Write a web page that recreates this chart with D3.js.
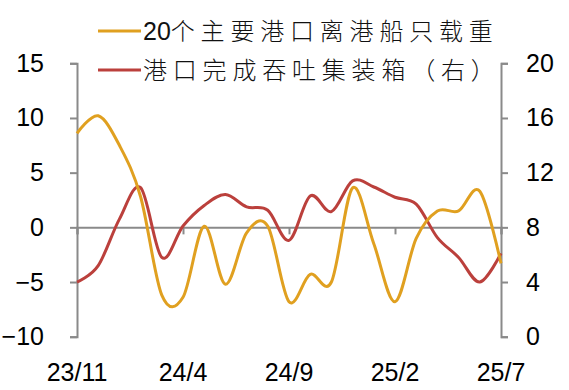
<!DOCTYPE html>
<html lang="zh">
<head>
<meta charset="utf-8">
<title>港口数据</title>
<script src="https://d3js.org/d3.v7.min.js"></script>
<style>
  body { margin: 0; background: #fff; }
  svg { display: block; }
</style>
</head>
<body>
<script>
// months 23/11 .. 25/7
var months = ["23/11","23/12","24/1","24/2","24/3","24/4","24/5","24/6","24/7","24/8","24/9",
              "24/10","24/11","24/12","25/1","25/2","25/3","25/4","25/5","25/6","25/7"];
var tickLabels = ["23/11","24/4","24/9","25/2","25/7"];

// 20个主要港口离港船只载重 (left axis)
var shipLoad = [8.6, 10.2, 7.5, 2.8, -6.2, -6.4, 0.1, -5.2, -0.5, 0.1, -6.8,
                -4.3, -5.0, 3.6, -1.5, -6.8, -1.0, 1.5, 1.5, 3.3, -3.3];
// 港口完成吞吐集装箱 (right axis)
var container = [4.0, 5.2, 8.6, 10.9, 5.8, 8.1, 9.6, 10.4, 9.5, 9.25, 7.05,
                 10.3, 9.15, 11.4, 10.95, 10.2, 9.7, 7.25, 5.8, 4.0, 6.1];

var leftTicks = [-10, -5, 0, 5, 10, 15];
var rightTicks = [0, 4, 8, 12, 16, 20];
var legendPrefix = ["20", ""];
var legendNames = ["个主要港口离港船只载重", "港口完成吞吐集装箱（右）"];
var colors = ["#e0a020", "#bb403c"];

var w = 569, h = 390;
var plotL = 77, plotR = 501, plotT = 63.3, plotB = 336.7;

var x = d3.scalePoint().domain(months).range([plotL, plotR]);
var yL = d3.scaleLinear().domain([-10, 15]).range([plotB, plotT]);
var yR = d3.scaleLinear().domain([0, 20]).range([plotB, plotT]);

var svg = d3.select("body").append("svg").attr("width", w).attr("height", h);

var axisColor = "#8a8a8a";
var numFont = "'Liberation Sans', Arial, sans-serif";
var cjkFont = "'Noto Sans CJK SC', sans-serif";

function styleAxis(g) {
  g.selectAll("path, line").attr("stroke", axisColor).attr("stroke-width", 2);
  g.selectAll("text").attr("font-family", numFont).attr("font-size", 25).attr("fill", "#000");
}

// left axis
svg.append("g").attr("transform", "translate(" + plotL + ",0)")
  .call(d3.axisLeft(yL).tickValues(leftTicks).tickSizeOuter(0).tickSize(7).tickPadding(26))
  .call(styleAxis);

// right axis
svg.append("g").attr("transform", "translate(" + plotR + ",0)")
  .call(d3.axisRight(yR).tickValues(rightTicks).tickSizeOuter(0).tickSize(7).tickPadding(18))
  .call(styleAxis);

// zero line with month ticks
svg.append("g").attr("transform", "translate(0," + yL(0) + ")")
  .call(d3.axisBottom(x).tickValues(tickLabels).tickSizeOuter(0).tickSize(7).tickFormat(""))
  .call(styleAxis);

// x labels
svg.append("g").selectAll("text").data(tickLabels).enter().append("text")
  .attr("x", function(d) { return x(d); })
  .attr("y", 381)
  .attr("text-anchor", "middle")
  .attr("font-family", numFont).attr("font-size", 25).attr("fill", "#000")
  .text(function(d) { return d; });

// lines
var curve = d3.curveCardinal.tension(0);
var lineL = d3.line().x(function(d, i) { return x(months[i]); }).y(function(d) { return yL(d); }).curve(curve);
var lineR = d3.line().x(function(d, i) { return x(months[i]); }).y(function(d) { return yR(d); }).curve(curve);

svg.append("path").datum(container).attr("d", lineR)
  .attr("fill", "none").attr("stroke", colors[1]).attr("stroke-width", 3);
svg.append("path").datum(shipLoad).attr("d", lineL)
  .attr("fill", "none").attr("stroke", colors[0]).attr("stroke-width", 3);

// legend
var legend = svg.append("g");
legendNames.forEach(function(name, i) {
  var cy = 31 + i * 39;
  legend.append("line").attr("x1", 98).attr("x2", 141).attr("y1", cy).attr("y2", cy)
    .attr("stroke", colors[i]).attr("stroke-width", 3);
  var t = legend.append("text").attr("x", 143).attr("y", cy).attr("dy", "0.36em")
    .attr("font-size", 24).attr("fill", "#111");
  if (legendPrefix[i]) {
    t.append("tspan").attr("font-family", numFont).attr("font-size", 25).text(legendPrefix[i]);
  }
  t.append("tspan").attr("font-family", cjkFont).attr("font-weight", 300)
    .attr("letter-spacing", 5.8).text(name);
});
</script>
</body>
</html>
